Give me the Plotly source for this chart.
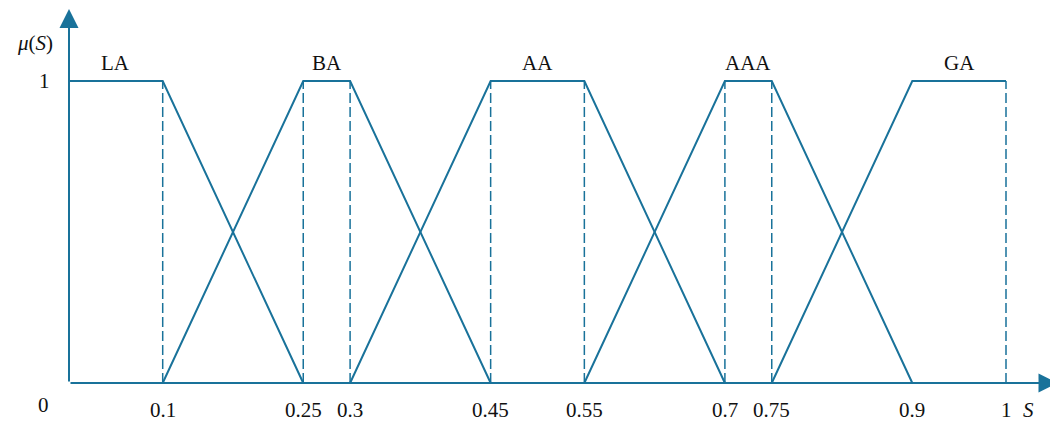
import plotly.graph_objects as go

# Membership functions (breakpoints and degrees)
sets = ["LA", "BA", "AA", "AAA", "GA"]
xs = {
    "LA": [0.0, 0.1, 0.25],
    "BA": [0.1, 0.25, 0.3, 0.45],
    "AA": [0.3, 0.45, 0.55, 0.7],
    "AAA": [0.55, 0.7, 0.75, 0.9],
    "GA": [0.75, 0.9, 1.0],
}
ys = {
    "LA": [1, 1, 0],
    "BA": [0, 1, 1, 0],
    "AA": [0, 1, 1, 0],
    "AAA": [0, 1, 1, 0],
    "GA": [0, 1, 1],
}
label_pos = [0.05, 0.275, 0.5, 0.725, 0.95]
dashed_at = [0.1, 0.25, 0.3, 0.45, 0.55, 0.7, 0.75, 1.0]
tick_vals = [0.1, 0.25, 0.3, 0.45, 0.55, 0.7, 0.75, 0.9, 1.0]
tick_text = ["0.1", "0.25", "0.3", "0.45", "0.55", "0.7", "0.75", "0.9", "1"]

C = "#19729a"
FONT = "Liberation Serif"
FS = 21

fig = go.Figure()

# dashed verticals
dx, dy = [], []
for v in dashed_at:
    dx += [v, v, None]
    dy += [0, 1, None]
fig.add_trace(go.Scatter(x=dx, y=dy, mode="lines",
                         line=dict(color=C, width=1.5, dash="10px,4px"),
                         hoverinfo="skip", showlegend=False))

for s in sets:
    fig.add_trace(go.Scatter(x=xs[s], y=ys[s], mode="lines", name=s,
                             line=dict(color=C, width=2), showlegend=False))

ann = []
# axes with arrows
ann.append(dict(x=0, y=1.238, ax=0, ay=0, xref="x", yref="y", axref="x", ayref="y",
                showarrow=True, arrowhead=2, arrowsize=1.9, arrowwidth=2, arrowcolor=C, text=""))
ann.append(dict(x=1.055, y=0, ax=0, ay=0, xref="x", yref="y", axref="x", ayref="y",
                showarrow=True, arrowhead=2, arrowsize=1.9, arrowwidth=2, arrowcolor=C, text=""))

txt = dict(family=FONT, size=FS, color="#111")
for s, p in zip(sets, label_pos):
    ann.append(dict(x=p, y=1.06, xref="x", yref="y", text=s, showarrow=False, font=txt))
for v, t in zip(tick_vals, tick_text):
    ann.append(dict(x=v, y=-0.089, xref="x", yref="y", text=t, showarrow=False, font=txt))
ann.append(dict(x=-0.027, y=-0.072, xref="x", yref="y", text="0", showarrow=False, font=txt))
ann.append(dict(x=-0.026, y=1.0, xref="x", yref="y", text="1", showarrow=False, font=txt))
ann.append(dict(x=-0.036, y=1.125, xref="x", yref="y", text="<i>μ</i>(<i>S</i>)",
                showarrow=False, font=txt))
ann.append(dict(x=1.024, y=-0.089, xref="x", yref="y", text="<i>S</i>", showarrow=False, font=txt))

# page has an 8px body margin; figure spans page px 8..1058 x 8..422
fig.update_layout(
    width=1050, height=414,
    margin=dict(l=0, r=0, t=0, b=0),
    paper_bgcolor="white", plot_bgcolor="white",
    xaxis=dict(range=[-0.0651, 1.0555], visible=False, fixedrange=True),
    yaxis=dict(range=[-0.129, 1.2417], visible=False, fixedrange=True),
    annotations=ann,
)

fig.write_html("out.html", config={"displayModeBar": False})
